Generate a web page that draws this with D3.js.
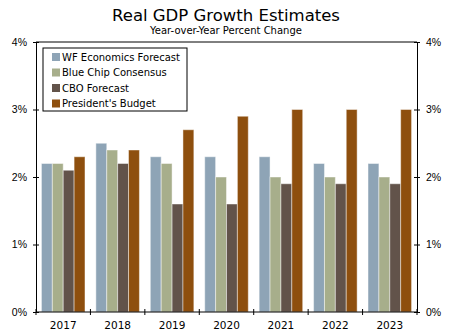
<!DOCTYPE html>
<html>
<head>
<meta charset="utf-8">
<script src="https://cdn.jsdelivr.net/npm/d3@7"></script>
<style>
  body { margin: 0; background: #fff; }
  svg { font-family: Verdana, "DejaVu Sans", sans-serif; }
  .title { font-size: 16.5px; fill: #000; }
  .subtitle { font-size: 10px; fill: #000; }
  .axis text { font-size: 10.5px; fill: #000; }
  .legend text { font-size: 10px; fill: #000; }
</style>
</head>
<body>
<svg width="450" height="334"></svg>
<script>
  const years = ['2017', '2018', '2019', '2020', '2021', '2022', '2023'];
  const seriesNames = ['WF Economics Forecast', 'Blue Chip Consensus', 'CBO Forecast', "President's Budget"];
  const wfForecast = [2.2, 2.5, 2.3, 2.3, 2.3, 2.2, 2.2];
  const blueChip   = [2.2, 2.4, 2.2, 2.0, 2.0, 2.0, 2.0];
  const cboForecast = [2.1, 2.2, 1.6, 1.6, 1.9, 1.9, 1.9];
  const presBudget = [2.3, 2.4, 2.7, 2.9, 3.0, 3.0, 3.0];
  const yTicks = [0, 1, 2, 3, 4];
  const colors = ['#8ea4b6', '#a7ae8b', '#62534a', '#8e4f0e'];

  const seriesValues = [wfForecast, blueChip, cboForecast, presBudget];
  const data = years.map((y, i) => ({
    year: y,
    values: seriesValues.map((s, k) => ({ key: k, value: s[i] }))
  }));

  const svg = d3.select('svg');
  const margin = { top: 42, right: 33, bottom: 22, left: 36 };
  const width = 450 - margin.left - margin.right;
  const height = 334 - margin.top - margin.bottom;

  svg.append('text').attr('class', 'title')
    .attr('x', 226).attr('y', 21).attr('text-anchor', 'middle')
    .text('Real GDP Growth Estimates');
  svg.append('text').attr('class', 'subtitle')
    .attr('x', 226).attr('y', 34).attr('text-anchor', 'middle')
    .text('Year-over-Year Percent Change');

  const g = svg.append('g').attr('transform', `translate(${margin.left},${margin.top})`);

  const x0 = d3.scaleBand().domain(years).range([0, width]).paddingInner(0.2).paddingOuter(0.1);
  const x1 = d3.scaleBand().domain(d3.range(4)).range([0, x0.bandwidth()]);
  const y = d3.scaleLinear().domain([0, 4]).range([height, 0]);

  // bars
  g.selectAll('.group').data(data).join('g')
    .attr('transform', d => `translate(${x0(d.year)},0)`)
    .selectAll('rect').data(d => d.values).join('rect')
      .attr('x', d => x1(d.key))
      .attr('width', x1.bandwidth())
      .attr('y', d => y(d.value))
      .attr('height', d => height - y(d.value))
      .attr('fill', d => colors[d.key])
      .attr('stroke', '#fff')
      .attr('stroke-opacity', 0.45)
      .attr('stroke-width', 1);

  // frame top
  g.append('line').attr('x1', 0).attr('x2', width).attr('y1', 0).attr('y2', 0)
    .attr('stroke', '#000');

  const fmt = d => d + '%';
  const yLeft = g.append('g').attr('class', 'axis')
    .call(d3.axisLeft(y).tickValues(yTicks).tickFormat(fmt).tickSizeInner(3).tickSizeOuter(0).tickPadding(6));
  const yRight = g.append('g').attr('class', 'axis')
    .attr('transform', `translate(${width},0)`)
    .call(d3.axisRight(y).tickValues(yTicks).tickFormat(fmt).tickSizeInner(3).tickSizeOuter(0).tickPadding(6));
  [yLeft, yRight].forEach(a => {
    a.selectAll('.tick line').attr('x1', -3).attr('x2', 3);
    a.select('.domain').attr('stroke', '#000');
  });

  // x axis with ticks between categories
  const xAxis = g.append('g').attr('class', 'axis').attr('transform', `translate(0,${height})`);
  xAxis.append('line').attr('x1', 0).attr('x2', width).attr('stroke', '#000');
  const bounds = d3.range(years.length + 1).map(i => i * width / years.length);
  xAxis.selectAll('.xt').data(bounds).join('line')
    .attr('x1', d => d).attr('x2', d => d).attr('y1', -3).attr('y2', 3).attr('stroke', '#000');
  xAxis.selectAll('.xl').data(years).join('text')
    .attr('x', d => x0(d) + x0.bandwidth() / 2)
    .attr('y', 17)
    .attr('text-anchor', 'middle')
    .text(d => d);

  // legend
  const legend = g.append('g').attr('class', 'legend').attr('transform', 'translate(7,6)');
  legend.append('rect').attr('width', 144).attr('height', 63)
    .attr('fill', '#fff').attr('stroke', '#000').attr('stroke-width', 1);
  const item = legend.selectAll('.item').data(seriesNames).join('g')
    .attr('transform', (d, i) => `translate(9,${9 + i * 15.5})`);
  item.append('rect').attr('width', 8).attr('height', 8).attr('y', -4)
    .attr('fill', (d, i) => colors[i]);
  item.append('text').attr('x', 10).attr('dy', '0.35em').text(d => d);
</script>
</body>
</html>
